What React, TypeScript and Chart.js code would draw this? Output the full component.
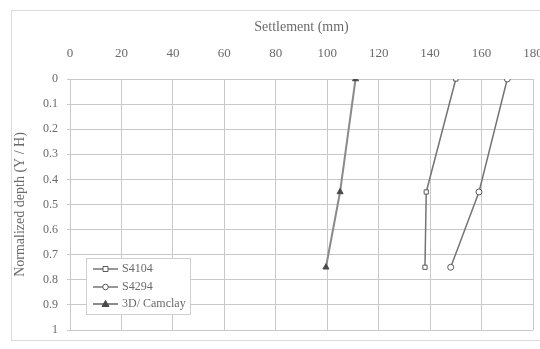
import React, { useEffect, useRef } from 'react';
import { Chart, registerables } from 'chart.js';

Chart.register(...registerables);

// ---- data ----
const depthLevels = [0, 0.45, 0.75];
const s4104Settlement = [150, 138.5, 138];
const s4294Settlement = [170, 159, 148];
const camclaySettlement = [111, 105, 99.5];
const seriesNames = ['S4104', 'S4294', '3D/ Camclay'];
const xTickLabels = ['0', '20', '40', '60', '80', '100', '120', '140', '160', '180'];
const yTickLabels = ['0', '0.1', '0.2', '0.3', '0.4', '0.5', '0.6', '0.7', '0.8', '0.9', '1'];

const FONT = "'Liberation Serif', 'DejaVu Serif', serif";
const TEXT = '#6a6a6a';
const GRID = '#c9c9c9';

const toPoints = (xs: number[]) => xs.map((x, i) => ({ x, y: depthLevels[i] }));

const framePlugin = {
  id: 'frame',
  beforeDraw(chart: any) {
    const ctx = chart.ctx;
    ctx.save();
    ctx.fillStyle = '#ffffff';
    ctx.fillRect(0, 0, chart.width, chart.height);
    ctx.strokeStyle = '#dadada';
    ctx.lineWidth = 1;
    ctx.strokeRect(11.5, 10.5, chart.width, 330);
    ctx.restore();
  },
};

const legendPlugin = {
  id: 'insideLegend',
  afterDraw(chart: any) {
    const ctx = chart.ctx;
    const bx = 86, by = 258, bw = 104, bh = 56;
    ctx.save();
    ctx.fillStyle = '#ffffff';
    ctx.fillRect(bx, by, bw, bh);
    ctx.strokeStyle = '#cfcfcf';
    ctx.lineWidth = 1;
    ctx.strokeRect(bx + 0.5, by + 0.5, bw, bh);
    const rowsY = [269, 287, 304];
    chart.data.datasets.forEach((ds: any, i: number) => {
      const y = rowsY[i];
      ctx.strokeStyle = ds.borderColor;
      ctx.lineWidth = ds.borderWidth;
      ctx.beginPath();
      ctx.moveTo(93, y);
      ctx.lineTo(118, y);
      ctx.stroke();
      const mx = 105.5;
      ctx.lineWidth = 1;
      ctx.strokeStyle = ds.pointBorderColor;
      ctx.fillStyle = ds.pointBackgroundColor;
      ctx.beginPath();
      if (ds.pointStyle === 'rect') {
        ctx.rect(mx - 2.5, y - 2.5, 5, 5);
      } else if (ds.pointStyle === 'circle') {
        ctx.arc(mx, y, 2.8, 0, Math.PI * 2);
      } else {
        ctx.moveTo(mx, y - 3.5);
        ctx.lineTo(mx + 3.5, y + 2.5);
        ctx.lineTo(mx - 3.5, y + 2.5);
        ctx.closePath();
      }
      ctx.fill();
      ctx.stroke();
      ctx.fillStyle = TEXT;
      ctx.font = `12px ${FONT}`;
      ctx.textBaseline = 'middle';
      ctx.textAlign = 'left';
      ctx.fillText(ds.label, 122, y);
    });
    ctx.restore();
  },
};

export default function App() {
  const canvasRef = useRef<HTMLCanvasElement | null>(null);

  useEffect(() => {
    document.body.style.margin = '0';
    const canvas = canvasRef.current;
    if (!canvas) return;
    const chart = new Chart(canvas, {
      type: 'scatter',
      data: {
        datasets: [
          {
            label: seriesNames[0],
            data: toPoints(s4104Settlement),
            showLine: true,
            borderColor: '#747474',
            borderWidth: 1.5,
            pointStyle: 'rect',
            pointRadius: 3,
            pointBorderColor: '#5a5a5a',
            pointBackgroundColor: '#ffffff',
            pointBorderWidth: 1,
          },
          {
            label: seriesNames[1],
            data: toPoints(s4294Settlement),
            showLine: true,
            borderColor: '#747474',
            borderWidth: 1.5,
            pointStyle: 'circle',
            pointRadius: 3,
            pointBorderColor: '#5a5a5a',
            pointBackgroundColor: '#ffffff',
            pointBorderWidth: 1,
          },
          {
            label: seriesNames[2],
            data: toPoints(camclaySettlement),
            showLine: true,
            borderColor: '#8a8a8a',
            borderWidth: 2,
            pointStyle: 'triangle',
            pointRadius: 3.5,
            pointBorderColor: '#4a4a4a',
            pointBackgroundColor: '#4a4a4a',
            pointBorderWidth: 1,
          },
        ],
      } as any,
      options: {
        animation: false,
        responsive: false,
        maintainAspectRatio: false,
        layout: { padding: { top: 10, left: 10, bottom: 19, right: 0 } },
        plugins: {
          legend: { display: false },
          tooltip: { enabled: false },
        },
        scales: {
          x: {
            type: 'linear',
            position: 'top',
            min: 0,
            max: 180,
            afterFit: (s: any) => {
              s.height = 69;
              s.paddingRight = 7;
              s.paddingLeft = 0;
            },
            ticks: {
              stepSize: 20,
              padding: 18,
              color: TEXT,
              font: { family: FONT, size: 13 },
              callback: (v: any) => xTickLabels[Math.round(Number(v) / 20)] ?? '',
            },
            grid: { color: GRID, drawTicks: false },
            border: { color: GRID },
            title: {
              display: true,
              text: 'Settlement (mm)',
              color: TEXT,
              font: { family: FONT, size: 14 },
              padding: { top: 9, bottom: 0 },
            },
          },
          y: {
            type: 'linear',
            reverse: true,
            min: 0,
            max: 1,
            afterFit: (s: any) => {
              s.width = 60;
            },
            ticks: {
              stepSize: 0.1,
              padding: 9,
              color: TEXT,
              font: { family: FONT, size: 12 },
              callback: (v: any) => yTickLabels[Math.round(Number(v) * 10)] ?? '',
            },
            grid: { color: GRID, tickLength: 3 },
            border: { color: GRID },
            title: {
              display: true,
              text: 'Normalized depth (Y / H)',
              color: TEXT,
              font: { family: FONT, size: 14 },
              padding: { top: 2, bottom: 0 },
            },
          },
        },
      } as any,
      plugins: [framePlugin, legendPlugin],
    });
    return () => chart.destroy();
  }, []);

  return (
    <div style={{ width: 540, height: 349 }}>
      <canvas ref={canvasRef} width={540} height={349} style={{ display: 'block', width: 540, height: 349 }} />
    </div>
  );
}
